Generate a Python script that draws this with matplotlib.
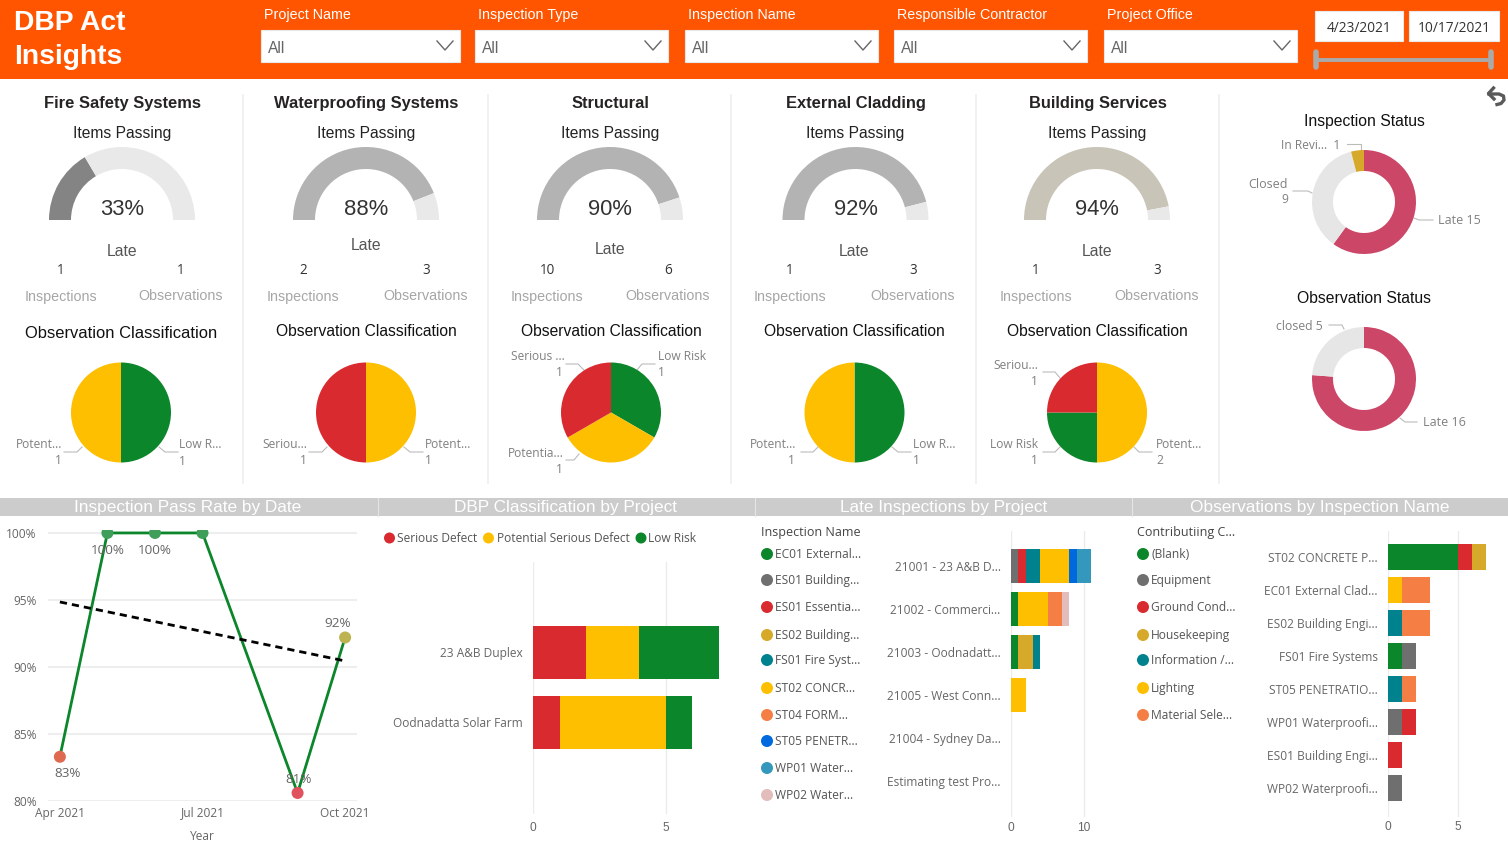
import matplotlib
matplotlib.use('Agg')
import matplotlib.pyplot as plt
from matplotlib.patches import Rectangle, Circle

W, H = 1508, 847
plt.rcParams['font.family'] = ['Liberation Sans', 'DejaVu Sans']

GREEN = '#0C862A'
RED = '#D92B2F'
YELLOW = '#FDBF00'
GOLD = '#D6A92A'
TEAL = '#00828E'
ORANGE = '#F57E45'
BLUE = '#0069DE'
LIGHTBLUE = '#3498BC'
PINK = '#E3BCBC'
GREY = '#6F6F6F'
LABEL = '#666666'
UI_FONT = ['Open Sans', 'DejaVu Sans']

# filters
filter_names = ['Project Name', 'Inspection Type', 'Inspection Name',
                'Responsible Contractor', 'Project Office']
date_from = '4/23/2021'
date_to = '10/17/2021'

# cards across the top
card_titles = ['Fire Safety Systems', 'Waterproofing Systems', 'Structural',
               'External Cladding', 'Building Services']
items_passing = [33, 88, 90, 92, 94]
late_inspections = [1, 2, 10, 1, 1]
late_observations = [1, 3, 6, 3, 3]
gauge_colors = ['#848484', '#B3B3B3', '#B3B3B3', '#B3B3B3', '#C8C4B8']

# observation classification pies
class_values = [[1, 1], [1, 1], [1, 1, 1], [1, 1], [2, 1, 1]]
class_colors = [[GREEN, YELLOW], [YELLOW, RED], [GREEN, YELLOW, RED],
                [GREEN, YELLOW], [YELLOW, GREEN, RED]]

# status donuts
inspection_status = [15, 9, 1]
inspection_status_colors = ['#CC4668', '#E6E6E6', GOLD]
observation_status = [16, 5]
observation_status_colors = ['#CC4668', '#E6E6E6']

# pass rate by date
rate_months = [4, 5, 6, 7, 9, 10]
rate_values = [83.3, 100, 100, 100, 80.6, 92.2]
rate_colors = ['#DE6A4F', '#3E9E5A', '#3E9E5A', '#3E9E5A', '#E0525E', '#BDB350']
rate_labels = ['83%', '100%', '100%', '', '81%', '92%']
trend_months = [4, 10]
trend_values = [94.85, 90.45]

# DBP classification by project
dbp_projects = ['23 A&B Duplex', 'Oodnadatta Solar Farm']
dbp_serious = [2, 1]
dbp_potential = [2, 4]
dbp_low = [3, 1]

# late inspections by project
late_projects = ['21001 - 23 A&B D...', '21002 - Commerci...', '21003 - Oodnadatt...',
                 '21005 - West Conn...', '21004 - Sydney Da...', 'Estimating test Pro...']
late_names = ['EC01 External...', 'ES01 Building...', 'ES01 Essentia...', 'ES02 Building...',
              'FS01 Fire Syst...', 'ST02 CONCR...', 'ST04 FORM...', 'ST05 PENETR...',
              'WP01 Water...', 'WP02 Water...']
late_colors = [GREEN, GREY, RED, GOLD, TEAL, YELLOW, ORANGE, BLUE, LIGHTBLUE, PINK]
late_ec01 = [0, 1, 1, 0, 0, 0]
late_es01b = [1, 0, 0, 0, 0, 0]
late_es01e = [1, 0, 0, 0, 0, 0]
late_es02 = [0, 0, 2, 0, 0, 0]
late_fs01 = [2, 0, 1, 0, 0, 0]
late_st02 = [4, 4, 0, 2, 0, 0]
late_st04 = [0, 2, 0, 0, 0, 0]
late_st05 = [1, 0, 0, 0, 0, 0]
late_wp01 = [2, 0, 0, 0, 0, 0]
late_wp02 = [0, 1, 0, 0, 0, 0]
late_series = [late_ec01, late_es01b, late_es01e, late_es02, late_fs01,
               late_st02, late_st04, late_st05, late_wp01, late_wp02]

# observations by inspection name
obs_names = ['ST02 CONCRETE P...', 'EC01 External Clad...', 'ES02 Building Engi...',
             'FS01 Fire Systems', 'ST05 PENETRATIO...', 'WP01 Waterproofi...',
             'ES01 Building Engi...', 'WP02 Waterproofi...']
obs_causes = ['(Blank)', 'Equipment', 'Ground Cond...', 'Housekeeping',
              'Information /...', 'Lighting', 'Material Sele...']
obs_colors = [GREEN, GREY, RED, GOLD, TEAL, YELLOW, ORANGE]
obs_blank = [5, 0, 0, 1, 0, 0, 0, 0]
obs_equipment = [0, 0, 0, 1, 0, 1, 0, 1]
obs_ground = [1, 0, 0, 0, 0, 1, 1, 0]
obs_housekeeping = [1, 0, 0, 0, 0, 0, 0, 0]
obs_information = [0, 0, 1, 0, 1, 0, 0, 0]
obs_lighting = [0, 1, 0, 0, 0, 0, 0, 0]
obs_material = [0, 2, 2, 0, 1, 0, 0, 0]
obs_series = [obs_blank, obs_equipment, obs_ground, obs_housekeeping,
              obs_information, obs_lighting, obs_material]


def px_axes(x0, y0, x1, y1):
    a = fig.add_axes([x0 / W, 1 - y1 / H, (x1 - x0) / W, (y1 - y0) / H])
    a.patch.set_alpha(0)
    return a


def txt(x, y, s, size, color='#222222', ha='center', **kw):
    # size is in pixels
    return bg.text(x, y + 1.5, s, fontsize=size * 0.72, color=color, ha=ha, va='center', **kw)


def ui(x, y, s, size=12, color=LABEL, ha='left'):
    return txt(x, y, s, size, color, ha, family=UI_FONT)


def leader(xs, ys):
    bg.plot(xs, ys, color='#BBBBBB', lw=0.8)


def round_pie(cx, cy, r, values, colors, start=90, width=None):
    a = px_axes(cx - r, cy - r, cx + r, cy + r)
    props = {'linewidth': 0}
    if width:
        props['width'] = width
    a.pie(values, colors=colors, startangle=start, counterclock=False, radius=1, wedgeprops=props)
    a.set_xlim(-1, 1)
    a.set_ylim(-1, 1)
    return a


def stacked(a, rows, series, colors, height, xpad=4):
    left = [0] * len(rows)
    pos = list(range(len(rows)))
    for vals, col in zip(series, colors):
        a.barh(pos, vals, left=left, color=col, height=height, zorder=3)
        left = [l + v for l, v in zip(left, vals)]
    a.set_yticks(pos)
    a.set_yticklabels(rows, fontsize=8.6, color=LABEL, family=UI_FONT)
    a.grid(axis='x', color='#EBEBEB', lw=1)
    a.set_axisbelow(True)
    a.tick_params(length=0, pad=7.5)
    a.tick_params(axis='x', labelsize=8.6, labelcolor=LABEL, pad=xpad)
    for s in a.spines.values():
        s.set_visible(False)


fig = plt.figure(figsize=(W / 100, H / 100), dpi=100, facecolor='white')
bg = fig.add_axes([0, 0, 1, 1])
bg.set_xlim(0, W)
bg.set_ylim(H, 0)
bg.axis('off')

# header
bg.add_patch(Rectangle((0, 0), W, 79, color='#FF5500', lw=0))
txt(14, 21.5, 'DBP Act', 28.3, 'white', 'left', weight='bold')
txt(14, 55, 'Insights', 28.3, 'white', 'left', weight='bold')
box_left = [261, 475, 685, 894, 1104]
box_right = [460, 668, 878, 1087, 1297]
for name, x0, x1 in zip(filter_names, box_left, box_right):
    txt(x0 + 3, 13, name, 14.2, 'white', 'left')
    bg.add_patch(Rectangle((x0, 30), x1 - x0, 32, fc='white', ec='#E8E8E8', lw=0.8))
    txt(x0 + 7, 47, 'All', 15.5, LABEL, 'left')
    bg.plot([x1 - 23, x1 - 15, x1 - 7], [41, 50, 41], color='#666666', lw=1)
for x0, x1, s in [(1315, 1403, date_from), (1409, 1499, date_to)]:
    bg.add_patch(Rectangle((x0, 11), x1 - x0, 30, fc='white', ec='#E8E8E8', lw=0.8))
    ui((x0 + x1) / 2, 27, s, 13.8, '#333333', 'center')
bg.plot([1316, 1491], [60, 60], color='#AAAAAA', lw=2.8, solid_capstyle='butt')
for x in [1316, 1491]:
    bg.plot([x, x], [52, 67], color='#AAAAAA', lw=4, solid_capstyle='round')

# back arrow
bg.plot([1489, 1499, 1503.5, 1504, 1501, 1497], [94, 94, 96, 100, 103.5, 104.5], color='#5A5A5A', lw=2.4)
bg.plot([1493.5, 1488.5, 1494], [88, 93.5, 99], color='#5A5A5A', lw=2.4)

# separators
for x in [243, 488, 731, 976, 1219]:
    bg.plot([x, x], [95, 483], color='#EFEFEF', lw=1.2)

# cards
gauge_x = [122, 366, 610, 855.5, 1097]
title_x = [122, 366.5, 610, 856, 1098]
late_y = [250, 245, 249, 250, 250]
late_x = [122, 366, 610, 854, 1097]
insp_x = [61, 303, 547, 790, 1036]
obs_x = [181, 426, 668, 913, 1157]
class_x = [121, 366, 611, 854, 1097]
class_y = [332, 331, 331, 331, 331]
class_size = [16.5, 15.6, 15.6, 15.6, 15.6]
for i, title in enumerate(card_titles):
    txt(title_x[i], 102, title, 16.5, '#252423', weight='bold')
    txt(gauge_x[i], 132, 'Items Passing', 15.6, '#222222')
    p = items_passing[i]
    round_pie(gauge_x[i], 220, 73, [p, 100 - p, 100], [gauge_colors[i], '#E9E9E9', 'none'],
              start=180, width=22 / 73)
    txt(gauge_x[i], 208, f'{p}%', 22, '#333333')
    txt(late_x[i], late_y[i] - 0.5, 'Late', 15.8, '#555555')
    ui(insp_x[i], 269, str(late_inspections[i]), 13.5, '#333333', 'center')
    ui(obs_x[i], 269, str(late_observations[i]), 13.5, '#333333', 'center')
    txt(insp_x[i], 295, 'Inspections', 14.3, '#A6A6A6')
    txt(obs_x[i], 295, 'Observations', 14.3, '#A6A6A6')
    txt(class_x[i], class_y[i] - 0.5, 'Observation Classification', class_size[i], '#111111')

pie_x = [121, 366, 611, 854.5, 1097]
for i in range(5):
    round_pie(pie_x[i], 412.5, 50, class_values[i], class_colors[i])

# pie callouts
for x, y, s, ha in [(62, 443, 'Potent...', 'right'), (62, 459, '1', 'right'),
                    (179, 443, 'Low R...', 'left'), (179, 460, '1', 'left'),
                    (307, 443, 'Seriou...', 'right'), (307, 459, '1', 'right'),
                    (425, 443, 'Potent...', 'left'), (425, 459, '1', 'left'),
                    (565, 355, 'Serious ...', 'right'), (563, 371, '1', 'right'),
                    (658, 355, 'Low Risk', 'left'), (658, 371, '1', 'left'),
                    (564, 452, 'Potentia...', 'right'), (563, 468, '1', 'right'),
                    (796, 443, 'Potent...', 'right'), (795, 459, '1', 'right'),
                    (913, 443, 'Low R...', 'left'), (913, 459, '1', 'left'),
                    (1038, 364, 'Seriou...', 'right'), (1038, 380, '1', 'right'),
                    (1038, 443, 'Low Risk', 'right'), (1038, 459, '1', 'right'),
                    (1156, 443, 'Potent...', 'left'), (1156, 459, '2', 'left')]:
    ui(x, y, s, 12, '#808080', ha)
for xs, ys in [([64, 77, 82], [452, 452, 447]), ([159, 165, 178], [447, 452, 452]),
               ([309, 322, 327], [452, 452, 447]), ([404, 410, 423], [447, 452, 452]),
               ([566, 578, 584], [364, 364, 370]), ([637, 642, 655], [370, 364, 364]),
               ([566, 574, 579], [460, 460, 454]), ([801, 813, 818], [452, 452, 447]),
               ([892, 898, 911], [447, 452, 452]), ([1043, 1055, 1060], [372, 372, 378]),
               ([1043, 1055, 1060], [452, 452, 447]), ([1134, 1139, 1152], [447, 452, 452])]:
    leader(xs, ys)

# status donuts
txt(1364, 120, 'Inspection Status', 15.7, '#111111')
round_pie(1364, 202, 52, inspection_status, inspection_status_colors, width=21 / 52)
txt(1364, 297, 'Observation Status', 15.7, '#111111')
round_pie(1364, 379, 52, observation_status, observation_status_colors, width=21 / 52)
ui(1340, 144, 'In Revi...  1', 12, '#808080', 'right')
ui(1288, 183, 'Closed', 12.5, '#808080', 'right')
ui(1288, 198, '9', 12, '#808080', 'right')
ui(1438, 219, 'Late 15', 12.5, '#808080')
ui(1323, 325, 'closed 5', 12.3, '#808080', 'right')
ui(1423, 421, 'Late 16', 12.5, '#808080')
leader([1347, 1361, 1361], [144, 144, 150])
leader([1293, 1308, 1312], [191, 191, 193])
leader([1414, 1419, 1433], [218, 220, 220])
leader([1329, 1342, 1344], [325, 325, 329])
leader([1400, 1405, 1417], [418, 422, 422])

# section bands
bg.add_patch(Rectangle((0, 498), W, 18, color='#CCCCCC', lw=0))
for x, s in [(188, 'Inspection Pass Rate by Date'), (566, 'DBP Classification by Project'),
             (944, 'Late Inspections by Project'), (1320, 'Observations by Inspection Name')]:
    txt(x, 506, s, 17.3, 'white')
for x in [378, 755, 1132]:
    bg.plot([x, x], [498, 516], color='#E4E4E4', lw=0.8)

# pass rate line chart
ax = px_axes(48, 530, 357, 801)
ax.set_xlim(3.75, 10.25)
ax.set_ylim(80, 100.22)
ax.plot(rate_months, rate_values, color=GREEN, lw=2, zorder=3)
ax.scatter(rate_months, rate_values, color=rate_colors, s=75, zorder=4, linewidths=0)
ax.plot(trend_months, trend_values, color='black', lw=2, ls=(0, (2.6, 1.8)), zorder=3)
label_offsets = [(8, -17), (0, -17.5), (0, -17.5), (0, 0), (1, 13), (-7, 14)]
for m, v, s, off in zip(rate_months, rate_values, rate_labels, label_offsets):
    if s:
        ax.annotate(s, (m, v), xytext=(off[0] * 0.72, off[1] * 0.72), textcoords='offset points',
                    ha='center', va='center', fontsize=9.7, color=LABEL, family=UI_FONT,
                    annotation_clip=False, zorder=5)
ax.set_xticks([4, 7, 10])
ax.set_xticklabels(['Apr 2021', 'Jul 2021', 'Oct 2021'], fontsize=8.6, color=LABEL, family=UI_FONT)
ax.set_yticks([80, 85, 90, 95, 100])
ax.set_yticklabels(['80%', '85%', '90%', '95%', '100%'], fontsize=8.6, color=LABEL, family=UI_FONT)
ax.grid(axis='y', color='#EEEEEE', lw=1.5)
ax.set_axisbelow(True)
ax.tick_params(length=0, pad=8)
ax.tick_params(axis='x', pad=4)
ax.set_xlabel('Year', fontsize=8.6, color=LABEL, family=UI_FONT, labelpad=7.5)
for s in ax.spines.values():
    s.set_visible(False)

# DBP legend and bars
for x, tx, s, c in [(389.5, 397, 'Serious Defect', RED), (488.5, 497, 'Potential Serious Defect', YELLOW),
                    (641, 648, 'Low Risk', GREEN)]:
    bg.add_patch(Circle((x, 538), 5.5, color=c, lw=0))
    ui(tx, 537, s, 12, '#555555')
ax = px_axes(533, 562, 740, 814)
stacked(ax, dbp_projects, [dbp_serious, dbp_potential, dbp_low], [RED, YELLOW, GREEN], 53 / 70, xpad=5.5)
ax.set_xlim(0, 7.81)
ax.set_ylim(2.314, -1.286)
ax.set_xticks([0, 5])

# late inspections
ui(761, 531, 'Inspection Name', 12.5, '#444444')
legend_y = [554, 580, 607, 635, 660, 688, 715, 741, 768, 795]
for y, s, c in zip(legend_y, late_names, late_colors):
    bg.add_patch(Circle((767, y), 6, color=c, lw=0))
    ui(775, y - 1, s, 12, '#555555')
ax = px_axes(1011, 531, 1125, 817)
stacked(ax, late_projects, late_series, late_colors, 34 / 43, xpad=3.5)
ax.set_xlim(0, 15.6)
ax.set_ylim(5.84, -0.814)
ax.set_xticks([0, 10])

# observations
ui(1137, 531, 'Contributiing C...', 12.5, '#444444')
for y, s, c in zip(legend_y, obs_causes, obs_colors):
    bg.add_patch(Circle((1143, y), 6, color=c, lw=0))
    ui(1151, y - 1, s, 12, '#555555')
ax = px_axes(1388, 531, 1500, 817)
stacked(ax, obs_names, obs_series, obs_colors, 26 / 33, xpad=3)
ax.set_xlim(0, 8)
ax.set_ylim(7.88, -0.788)
ax.set_xticks([0, 5])

fig.savefig('out.png', dpi=100)
